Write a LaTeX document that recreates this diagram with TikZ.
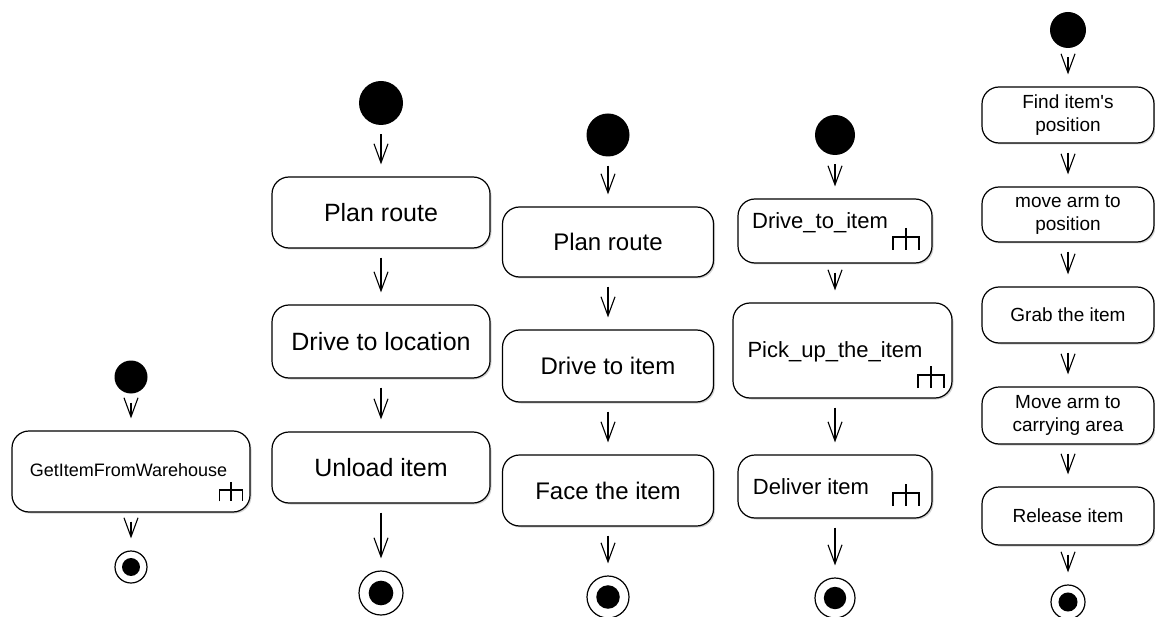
\documentclass[tikz,border=0pt]{standalone}
\usepackage{fontspec}
\setmainfont{Liberation Sans}
\usetikzlibrary{arrows.meta,shadows}

\newcommand{\fone}{\fontsize{18}{21}\selectfont}
\newcommand{\ftwo}{\fontsize{25}{29}\selectfont}
\newcommand{\fthree}{\fontsize{24}{28}\selectfont}
\newcommand{\ffour}{\fontsize{22}{26}\selectfont}
\newcommand{\ffive}{\fontsize{19}{23}\selectfont}

% subactivity rake, #2 is the middle of its bar
\newcommand{\rakeat}[2][1]{\draw[line width=1.1pt, shift={(#2)}, scale=#1]
  (-13,13) -- (-13,0) -- (13,0) -- (13,13) (0,-9) -- (0,13);}

\tikzset{
  start/.style={circle, fill=black, inner sep=0pt, minimum size=#1},
  final/.style={circle, draw, line width=1.2pt, fill=white, inner sep=0pt, minimum size=#1,
    path picture={\fill[black] (path picture bounding box.center) circle (0.28*#1);}},
  action/.style={draw, fill=white, line width=1.2pt, rounded corners=17pt, align=center,
    inner sep=0pt, drop shadow={shadow xshift=1.5pt, shadow yshift=-1.5pt, opacity=0.35}},
  flow/.style={-{Straight Barb[length=19pt,width=14pt]}, line width=1.1pt,
    shorten <=9pt, shorten >=12pt}
}

\begin{document}
\begin{tikzpicture}[x=1pt, y=-1pt]
    \useasboundingbox (0,0) rectangle (1155,617);

    % GetItemFromWarehouse
    \node[start=33pt] (s1) at (131,377) {};
    \node[action, minimum width=238pt, minimum height=81pt] (a1) at (131,471.5) {};
    \node[font=\fone] (t1) at (128.5,470) {GetItemFromWarehouse};
    \rakeat[0.88]{231,490}
    \node[final=32pt] (e1) at (131,567) {};
    \draw[flow] (s1) -- (a1);
    \draw[flow] (a1) -- (e1);

    % deliver item
    \node[start=44pt] (s2) at (381,103) {};
    \node[action, font=\ftwo, minimum width=218pt, minimum height=71pt] (b21) at (381,212.5) {Plan route};
    \node[action, font=\ftwo, minimum width=218pt, minimum height=73pt] (b22) at (381,341.5) {Drive to location};
    \node[action, font=\ftwo, minimum width=218pt, minimum height=71pt] (b23) at (381,467.5) {Unload item};
    \node[final=44pt] (e2) at (381,593) {};
    \draw[flow] (s2) -- (b21);
    \draw[flow] (b21) -- (b22);
    \draw[flow] (b22) -- (b23);
    \draw[flow] (b23) -- (e2);

    % drive to item
    \node[start=43pt] (s3) at (608,135) {};
    \node[action, font=\fthree, minimum width=211pt, minimum height=70pt] (b31) at (608,242) {Plan route};
    \node[action, font=\fthree, minimum width=211pt, minimum height=72pt] (b32) at (608,366) {Drive to item};
    \node[action, font=\fthree, minimum width=211pt, minimum height=71pt] (b33) at (608,490.5) {Face the item};
    \node[final=42pt] (e3) at (608,597) {};
    \draw[flow] (s3) -- (b31);
    \draw[flow] (b31) -- (b32);
    \draw[flow] (b32) -- (b33);
    \draw[flow] (b33) -- (e3);

    % get item from warehouse
    \node[start=40pt] (s4) at (835,135) {};
    \node[action, minimum width=194pt, minimum height=64pt] (b41) at (835,231) {};
    \node[font=\ffour] (t41) at (820,223) {Drive\_to\_item};
    \rakeat{906,237}
    \node[action, minimum width=219pt, minimum height=95pt] (b42) at (842.5,350.5) {};
    \node[font=\ffour] (t42) at (835,352) {Pick\_up\_the\_item};
    \rakeat{931,375}
    \node[action, minimum width=194pt, minimum height=63pt] (b43) at (835,486.5) {};
    \node[font=\ffour] (t43) at (811,487) {Deliver item};
    \rakeat{906,493}
    \node[final=40pt] (e4) at (835,598) {};
    \draw[flow] (s4) -- (b41);
    \draw[flow] (b41) -- (b41 |- b42.north);
    \draw[flow] (b43 |- b42.south) -- (b43);
    \draw[flow] (b43) -- (e4);

    % pick up the item
    \node[start=36pt] (s5) at (1068,30) {};
    \node[action, font=\ffive, minimum width=172pt, minimum height=56pt] (b51) at (1068,115) {Find item\textquotesingle s\\position};
    \node[action, font=\ffive, minimum width=172pt, minimum height=55pt] (b52) at (1068,214.5) {move arm to\\position};
    \node[action, font=\ffive, minimum width=172pt, minimum height=56pt] (b53) at (1068,315) {Grab the item};
    \node[action, font=\ffive, minimum width=172pt, minimum height=57pt] (b54) at (1068,415.5) {Move arm to\\carrying area};
    \node[action, font=\ffive, minimum width=172pt, minimum height=58pt] (b55) at (1068,516) {Release item};
    \node[final=34pt] (e5) at (1068,602) {};
    \draw[flow] (s5) -- (b51);
    \draw[flow] (b51) -- (b52);
    \draw[flow] (b52) -- (b53);
    \draw[flow] (b53) -- (b54);
    \draw[flow] (b54) -- (b55);
    \draw[flow] (b55) -- (e5);
  \end{tikzpicture}
\end{document}
